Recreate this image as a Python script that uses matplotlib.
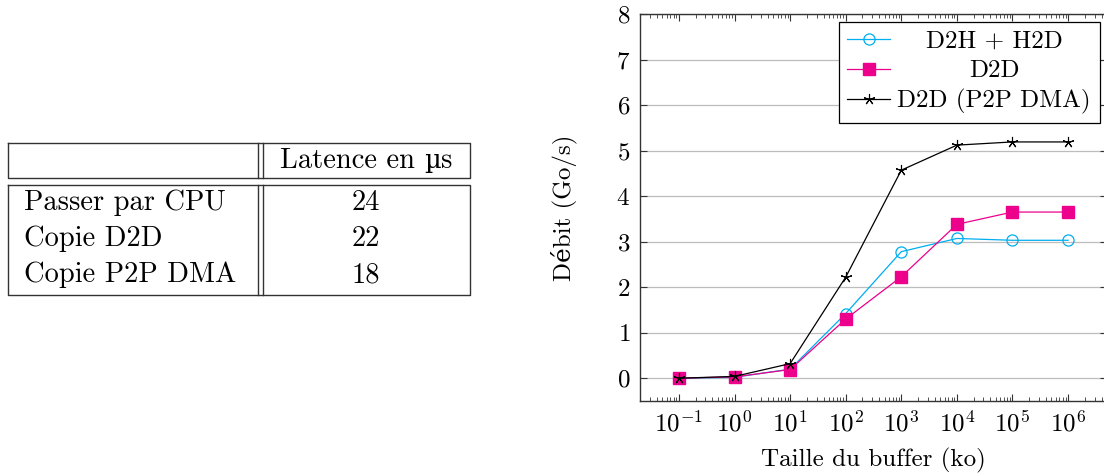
import matplotlib
matplotlib.use("Agg")
import matplotlib.pyplot as plt
import numpy as np
from matplotlib.offsetbox import AnnotationBbox, HPacker, TextArea
from matplotlib.ticker import LogLocator, NullFormatter, MultipleLocator

plt.rcParams["font.family"] = ["cmr10", "DejaVu Serif"]
plt.rcParams["mathtext.fontset"] = "cm"
plt.rcParams["axes.formatter.use_mathtext"] = True
plt.rcParams["font.size"] = 18

# --- data -------------------------------------------------------------
sizes_ko = [1e-1, 1e0, 1e1, 1e2, 1e3, 1e4, 1e5, 1e6]
d2h_h2d = [0.0, 0.02, 0.20, 1.42, 2.78, 3.07, 3.03, 3.03]
d2d = [0.0, 0.03, 0.19, 1.30, 2.23, 3.38, 3.65, 3.65]
d2d_p2p = [0.0, 0.04, 0.32, 2.22, 4.57, 5.12, 5.19, 5.19]
series_labels = ["D2H + H2D", "D2D", "D2D (P2P DMA)"]

table_header = ("Latence en ", "µ", "s")
table_rows = ["Passer par CPU", "Copie D2D", "Copie P2P DMA"]
table_values = [24, 22, 18]

CYAN = "#00AEEF"
MAGENTA = "#EC008C"
TFS = 20.5

fig = plt.figure(figsize=(11.04, 4.74), dpi=100)

# --- table (pixel coordinates of the left part) -------------------------
tax = fig.add_axes([0, 0, 1, 1])
tax.set_xlim(0, 1104)
tax.set_ylim(474, 0)
tax.axis("off")

lw = 1.0
lc = "#333333"
x0, x1, xv1, xv2 = 8, 470, 258, 262.5
hy0, hy1, by0, by1 = 142.5, 178, 184.5, 295
for (ya, yb) in [(hy0, hy1), (by0, by1)]:
    tax.plot([x0, x1, x1, x0, x0], [ya, ya, yb, yb, ya], color=lc, lw=lw)
    tax.plot([xv1, xv1], [ya, yb], color=lc, lw=lw)
    tax.plot([xv2, xv2], [ya, yb], color=lc, lw=lw)

col_c = (xv2 + x1) / 2
# header: cmr10 has no upright mu, take it from DejaVu Serif
parts = [
    TextArea(table_header[0], textprops=dict(fontsize=TFS)),
    TextArea(table_header[1], textprops=dict(fontsize=TFS - 2, family="DejaVu Serif")),
    TextArea(table_header[2], textprops=dict(fontsize=TFS)),
]
hdr = HPacker(children=parts, pad=0, sep=0, align="baseline")
tax.add_artist(AnnotationBbox(hdr, (col_c, (hy0 + hy1) / 2 + 1), frameon=False,
                              box_alignment=(0.5, 0.5), pad=0))
row_y = [203, 239, 275]
for name, val, y in zip(table_rows, table_values, row_y):
    tax.text(24, y, name, ha="left", va="center", fontsize=TFS)
    tax.text(col_c, y, str(val), ha="center", va="center", fontsize=TFS)

# --- plot ---------------------------------------------------------------
ax = fig.add_axes([640 / 1104, 73 / 474, 467 / 1104, 387 / 474])
ax.plot(sizes_ko, d2h_h2d, color=CYAN, lw=0.9, marker="o", ms=8,
        mfc="none", mec=CYAN, mew=0.9, label=series_labels[0])
ax.plot(sizes_ko, d2d, color=MAGENTA, lw=0.9, marker="s", ms=8,
        mfc=MAGENTA, mec=MAGENTA, label=series_labels[1])
ax.plot(sizes_ko, d2d_p2p, color="black", lw=0.9, marker=(5, 2), ms=8,
        mew=0.8, label=series_labels[2])

ax.set_xscale("log")
ax.set_xlim(10 ** -1.7, 10 ** 6.7)
ax.set_ylim(-0.5, 8)
ax.xaxis.set_major_locator(LogLocator(base=10, numticks=20))
ax.xaxis.set_minor_locator(LogLocator(base=10, subs=np.arange(2, 10), numticks=20))
ax.xaxis.set_minor_formatter(NullFormatter())
ax.yaxis.set_major_locator(MultipleLocator(1))

ax.tick_params(which="both", direction="in", top=True, right=True, color="#333333")
ax.tick_params(which="major", length=5, width=0.8, pad=7)
ax.tick_params(which="minor", length=3, width=0.6)
ax.grid(axis="y", which="major", color="#bdbdbd", lw=0.9)
ax.set_axisbelow(True)
for s in ax.spines.values():
    s.set_linewidth(1.0)
    s.set_color("#333333")

ax.set_xlabel("Taille du buffer (ko)", labelpad=8)
ax.set_ylabel("Débit (Go/s)", labelpad=28)

leg = ax.legend(loc="upper right", fancybox=False, edgecolor="black",
                framealpha=1, borderaxespad=0.3, handlelength=1.7,
                labelspacing=0.28, handletextpad=0.3, borderpad=0.35)
leg.get_frame().set_linewidth(0.9)

# centre the legend entries like pgfplots does
fig.canvas.draw()
renderer = fig.canvas.get_renderer()
widths = [t.get_window_extent(renderer).width for t in leg.get_texts()]
wmax = max(widths)
for t, w in zip(leg.get_texts(), widths):
    t.set_position(((wmax - w) / 2, 0))

fig.savefig("out.png", dpi=100)
